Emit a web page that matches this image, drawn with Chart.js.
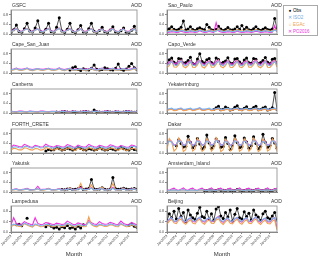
<!DOCTYPE html>
<html><head><meta charset="utf-8">
<script src="https://cdn.jsdelivr.net/npm/chart.js@4.4.1/dist/chart.umd.min.js"></script>
<style>
html,body{margin:0;padding:0;background:#fff;width:320px;height:261px;overflow:hidden;font-family:'Liberation Sans',Arial,sans-serif;}
.w{position:absolute;}
.t{position:absolute;font-size:5px;line-height:6px;color:#333;white-space:nowrap;}
.lg{position:absolute;left:283px;top:5px;width:35px;height:31px;border:1px solid #aaa;box-sizing:border-box;background:#fff;}
.li{position:absolute;left:3px;font-size:4.5px;line-height:6px;white-space:nowrap;}
.li b{display:inline-block;width:6px;font-weight:normal;text-align:center;}
</style></head><body>
<div class="lg">
 <div class="li" style="top:2px;color:#000"><b>●</b>Obs</div>
 <div class="li" style="top:9px;color:#6fa8e0"><b>✕</b>ISO2</div>
 <div class="li" style="top:16px;color:#f0a050"><b>○</b>EGAc</div>
 <div class="li" style="top:23px;color:#ee33dd"><b>✕</b>PO2016</div>
</div>
<script>
const yearLabels = ['Jan2003','Jan2004','Jan2005','Jan2006','Jan2007','Jan2008','Jan2009','Jan2010','Jan2011','Jan2012','Jan2013','Jan2014'];
const seriesNames = ['ISO2','EGAc','PO2016','Obs'];
const yTicks = [0,0.2,0.4,0.6,0.8,1.0];

// GSFC
const gsfcISO=[.08,.16,.21,.10,.08,.17,.22,.10,.08,.16,.21,.10,.09,.16,.22,.10,.08,.17,.23,.10,.08,.16,.21,.10,.08,.15,.20,.09,.08,.16,.21,.09,.08,.15,.19,.09,.08,.16,.21,.10,.08,.15,.20,.09,.08,.16,.21,.08];
const gsfcEGA=[.07,.15,.21,.09,.08,.17,.23,.10,.07,.16,.20,.09,.08,.15,.22,.10,.07,.17,.24,.09,.08,.16,.21,.10,.07,.14,.20,.09,.08,.16,.22,.08,.07,.15,.19,.09,.08,.17,.21,.10,.07,.15,.20,.09,.08,.16,.22,.07];
const gsfcPO=[.10,.18,.22,.12,.11,.19,.23,.12,.10,.18,.21,.12,.11,.18,.23,.13,.10,.19,.24,.12,.11,.18,.22,.12,.10,.17,.21,.11,.11,.18,.22,.11,.10,.17,.20,.11,.11,.19,.22,.12,.10,.17,.21,.11,.11,.18,.22,.10];
const gsfcObs=[.06,.18,.38,.10,.07,.22,.45,.12,.08,.25,.55,.10,.06,.20,.45,.09,.07,.28,.68,.12,.06,.20,.45,.10,.05,.18,.35,.08,.07,.22,.45,.11,.06,.15,.28,.09,.05,.17,.30,.08,.06,.14,.25,.07,.05,.16,.32,.06];
// Cape_San_Juan
const csjISO=[.13,.15,.19,.14,.13,.16,.20,.14,.12,.15,.18,.14,.13,.16,.19,.14,.13,.15,.20,.14,.12,.16,.19,.13,.13,.15,.18,.14,.13,.16,.20,.14,.12,.15,.19,.13,.13,.16,.19,.14,.13,.15,.18,.14,.13,.16,.20,.13];
const csjEGA=[.11,.13,.17,.12,.11,.14,.18,.12,.10,.13,.16,.12,.11,.14,.17,.12,.11,.13,.18,.12,.10,.14,.17,.11,.11,.13,.16,.12,.11,.14,.18,.12,.10,.13,.17,.11,.11,.14,.17,.12,.11,.13,.16,.12,.11,.14,.18,.11];
const csjPO=[.15,.17,.20,.16,.15,.18,.21,.16,.14,.17,.19,.16,.15,.18,.20,.16,.15,.17,.21,.16,.14,.18,.20,.15,.15,.17,.19,.16,.15,.18,.21,.16,.14,.17,.20,.15,.15,.18,.20,.16,.15,.17,.19,.16,.15,.18,.21,.15];
const csjObs=[null,null,null,null,null,null,null,null,null,null,null,null,null,null,null,null,null,null,null,null,null,null,.12,.22,.26,.15,.10,.18,.14,.12,.20,.33,.16,.12,.15,.22,.18,.14,.12,.20,.37,.15,.11,.17,.28,.40,.22,.14];
// Canberra
const canISO=[.06,.05,.04,.06,.06,.05,.04,.07,.06,.05,.04,.06,.06,.05,.04,.06,.06,.05,.04,.07,.06,.04,.04,.06,.06,.05,.04,.06,.06,.05,.04,.07,.06,.05,.04,.06,.06,.05,.04,.06,.06,.05,.04,.07,.06,.05,.04,.06];
const canEGA=[.05,.04,.03,.05,.05,.04,.03,.06,.05,.04,.03,.05,.05,.04,.03,.05,.05,.04,.03,.06,.05,.03,.03,.05,.05,.04,.03,.05,.05,.04,.03,.06,.05,.04,.03,.05,.05,.04,.03,.05,.05,.04,.03,.06,.05,.04,.03,.05];
const canPO=[.07,.06,.05,.08,.08,.06,.05,.08,.07,.06,.05,.08,.08,.06,.05,.07,.07,.06,.05,.08,.08,.06,.05,.08,.07,.06,.05,.08,.08,.06,.05,.07,.07,.06,.05,.08,.08,.06,.05,.08,.07,.06,.05,.08,.08,.06,.05,.07];
const canObs=[null,null,null,null,null,null,null,null,null,null,null,null,null,null,null,null,null,.04,.03,.05,.06,.04,.03,.05,.04,.03,.04,.05,.06,.04,.03,.12,.05,.04,.03,.04,.06,.04,.03,.05,.04,.03,.04,.06,.05,.04,.03,.05];
// FORTH_CRETE
const forISO=[.20,.25,.26,.22,.21,.27,.28,.22,.20,.26,.27,.21,.22,.28,.27,.23,.20,.25,.26,.21,.21,.27,.28,.22,.20,.26,.25,.21,.21,.27,.27,.22,.20,.25,.26,.21,.21,.26,.28,.22,.20,.25,.26,.21,.21,.27,.27,.22];
const forEGA=[.12,.20,.18,.13,.13,.22,.20,.14,.12,.19,.18,.12,.14,.23,.19,.15,.12,.18,.17,.12,.13,.21,.20,.14,.11,.20,.17,.12,.13,.22,.19,.13,.12,.19,.18,.12,.13,.21,.20,.14,.12,.18,.17,.11,.13,.20,.19,.12];
const forPO=[.24,.33,.30,.27,.25,.36,.31,.26,.23,.32,.29,.25,.26,.37,.30,.27,.24,.31,.29,.25,.25,.35,.31,.26,.23,.33,.28,.25,.25,.36,.30,.26,.24,.32,.29,.25,.25,.34,.31,.26,.24,.31,.28,.24,.25,.33,.30,.25];
const forObs=[null,null,null,null,null,null,null,null,null,null,null,null,null,.08,.15,.12,.14,.22,.18,.12,.15,.20,.17,.13,.16,.24,.19,.14,.13,.18,.16,.12,.15,.22,.17,.13,.14,.19,.16,.12,.17,.25,.18,.14,.13,.20,.15,.12];
// Yakutsk
const yakISO=[.09,.10,.12,.08,.09,.11,.13,.08,.09,.10,.14,.08,.10,.11,.13,.09,.09,.10,.12,.08,.09,.11,.14,.08,.09,.12,.15,.09,.10,.11,.16,.09,.09,.12,.14,.08,.09,.11,.15,.09,.09,.10,.13,.08,.09,.11,.13,.08];
const yakEGA=[.07,.09,.11,.07,.08,.10,.12,.07,.07,.09,.13,.07,.08,.10,.14,.08,.07,.09,.12,.07,.08,.10,.18,.08,.07,.12,.36,.09,.08,.11,.30,.08,.07,.12,.20,.08,.08,.10,.35,.09,.07,.09,.16,.07,.08,.10,.14,.07];
const yakPO=[.10,.11,.13,.09,.10,.12,.15,.10,.10,.11,.24,.10,.11,.12,.15,.10,.10,.11,.14,.09,.10,.12,.16,.10,.10,.13,.20,.10,.11,.12,.18,.10,.10,.13,.16,.09,.10,.12,.19,.10,.10,.11,.15,.09,.10,.12,.14,.09];
const yakObs=[null,null,null,null,null,null,null,null,null,null,null,null,null,null,null,null,null,null,null,.10,.09,.12,.15,.10,.11,.14,.20,.10,.12,.15,.52,.13,.10,.12,.18,.11,.09,.13,.60,.14,.11,.13,.16,.12,.10,.12,.15,.11];
// Lampedusa
const lamISO=[.24,.30,.28,.25,.26,.34,.30,.26,.23,.31,.28,.24,.25,.30,.29,.26,.24,.28,.27,.24,.26,.33,.30,.25,.23,.29,.27,.24,.25,.38,.31,.26,.24,.30,.28,.25,.26,.31,.29,.25,.24,.33,.28,.24,.25,.31,.27,.23];
const lamEGA=[.20,.27,.25,.21,.22,.32,.27,.22,.19,.28,.25,.20,.21,.27,.26,.22,.20,.25,.24,.20,.22,.31,.27,.21,.19,.26,.24,.20,.21,.58,.28,.22,.20,.27,.25,.21,.22,.28,.26,.21,.20,.30,.25,.20,.21,.28,.24,.18];
const lamPO=[.28,.55,.33,.30,.30,.40,.35,.31,.27,.55,.33,.29,.30,.36,.34,.31,.28,.34,.32,.29,.31,.42,.36,.30,.28,.35,.32,.29,.30,.45,.36,.31,.29,.40,.33,.30,.31,.37,.34,.30,.29,.42,.33,.29,.30,.37,.32,.27];
const lamObs=[null,null,.28,.30,.24,null,.53,null,null,null,null,null,null,.20,.28,.22,.15,.18,.12,.20,.16,.25,.14,.18,.12,.22,.15,.28,null,null,null,null,null,null,null,null,null,null,null,null,null,null,null,null,.25,.30,.22,.18];
// Sao_Paulo
const saoISO=[.10,.11,.14,.12,.10,.11,.15,.13,.10,.11,.14,.12,.10,.12,.16,.13,.10,.11,.14,.12,.10,.12,.17,.13,.10,.11,.14,.12,.10,.11,.15,.12,.10,.11,.14,.12,.10,.12,.15,.13,.10,.11,.14,.12,.10,.11,.16,.12];
const saoEGA=[.12,.13,.17,.15,.12,.13,.18,.16,.12,.13,.16,.15,.12,.14,.19,.16,.12,.13,.17,.15,.12,.14,.20,.16,.12,.13,.17,.15,.12,.13,.18,.15,.12,.13,.17,.15,.12,.14,.18,.16,.12,.13,.16,.15,.12,.13,.19,.15];
const saoPO=[.06,.07,.10,.08,.06,.07,.12,.08,.06,.07,.10,.08,.06,.08,.14,.09,.06,.07,.11,.08,.06,.47,.13,.08,.06,.07,.10,.08,.06,.07,.12,.08,.06,.07,.10,.08,.06,.08,.12,.09,.06,.07,.10,.08,.06,.07,.35,.08];
const saoObs=[.18,.22,.30,.20,.16,.20,.28,.54,.17,.21,.30,.19,.15,.22,.26,.20,.18,.40,.28,.18,.16,.20,.32,.21,.15,.19,.27,.18,.17,.21,.30,.20,.35,.19,.28,.18,.16,.22,.30,.20,.15,.20,.26,.19,.17,.21,.65,.22];
// Capo_Verde
const cvISO=[.30,.38,.48,.34,.32,.40,.50,.35,.30,.37,.47,.33,.31,.39,.49,.34,.30,.38,.46,.33,.32,.40,.50,.35,.30,.37,.47,.33,.31,.39,.48,.34,.30,.38,.46,.33,.32,.40,.49,.35,.30,.37,.47,.33,.31,.39,.48,.34];
const cvEGA=[.22,.32,.50,.25,.24,.35,.52,.27,.22,.31,.48,.24,.23,.34,.51,.26,.21,.32,.47,.24,.24,.36,.53,.27,.22,.31,.48,.24,.23,.33,.50,.26,.22,.32,.47,.24,.24,.35,.51,.27,.22,.31,.48,.24,.23,.34,.50,.25];
const cvPO=[.35,.45,.52,.40,.37,.47,.54,.41,.35,.44,.51,.39,.36,.46,.53,.40,.35,.45,.50,.39,.37,.48,.55,.41,.35,.44,.51,.39,.36,.46,.52,.40,.35,.45,.50,.39,.37,.47,.54,.41,.35,.44,.51,.39,.36,.46,.52,.40];
const cvObs=[.40,.55,.62,.45,.38,.60,.58,.42,.44,.52,.66,.40,.36,.58,.80,.48,.42,.55,.60,.44,.38,.62,.56,.40,.45,.50,.64,.42,.40,.58,.60,.46,.37,.54,.62,.43,.41,.60,.57,.40,.44,.52,.65,.45,.39,.57,.60,.42];
// Yekaterinburg
const yekISO=[.16,.18,.20,.15,.16,.19,.21,.15,.16,.18,.20,.15,.17,.19,.22,.16,.16,.18,.20,.15,.16,.19,.21,.15,.16,.18,.20,.15,.17,.19,.21,.16,.16,.18,.20,.15,.16,.19,.21,.15,.16,.18,.20,.15,.17,.19,.21,.16];
const yekEGA=[.11,.14,.16,.10,.11,.15,.17,.10,.11,.14,.16,.10,.12,.15,.18,.11,.11,.14,.16,.10,.11,.15,.17,.10,.11,.14,.16,.10,.12,.15,.17,.11,.11,.14,.16,.10,.11,.15,.17,.10,.11,.14,.16,.10,.12,.15,.17,.11];
const yekPO=[.13,.16,.18,.12,.13,.17,.19,.12,.13,.16,.18,.12,.14,.17,.20,.13,.13,.16,.18,.12,.13,.17,.19,.12,.13,.16,.18,.12,.14,.17,.19,.13,.13,.16,.18,.12,.13,.17,.19,.12,.13,.16,.18,.12,.14,.17,.19,.13];
const yekObs=[null,null,null,null,null,null,null,null,null,null,null,null,null,null,null,null,null,null,null,null,.15,.22,.28,.14,.16,.25,.20,.13,.15,.24,.30,.16,.14,.20,.26,.15,.16,.23,.28,.14,.15,.21,.25,.13,.16,.22,.85,.15];
// Dakar
const dakISO=[.35,.50,.45,.30,.36,.52,.47,.31,.34,.49,.44,.30,.36,.51,.46,.31,.35,.50,.45,.30,.37,.53,.47,.32,.34,.49,.44,.30,.36,.51,.46,.31,.35,.50,.45,.30,.36,.52,.47,.31,.34,.49,.44,.30,.35,.51,.46,.31];
const dakEGA=[.15,.60,.45,.08,.18,.63,.48,.06,.14,.58,.44,.08,.17,.62,.46,.07,.15,.59,.45,.08,.19,.64,.48,.06,.14,.57,.43,.08,.16,.61,.46,.07,.15,.60,.44,.08,.18,.62,.47,.06,.14,.58,.44,.08,.16,.60,.45,.07];
const dakPO=[.35,.55,.48,.32,.37,.57,.50,.33,.34,.54,.47,.31,.36,.56,.49,.33,.35,.55,.48,.32,.38,.58,.51,.34,.34,.53,.47,.31,.36,.56,.49,.33,.35,.55,.48,.32,.37,.57,.50,.33,.34,.54,.47,.31,.36,.55,.48,.32];
const dakObs=[null,null,null,null,.30,.55,.40,.25,.28,.70,.45,.22,.32,.60,.38,.18,.25,.75,.42,.20,.30,.58,.48,.24,.27,.65,.40,.15,.33,.72,.44,.22,.26,.62,.46,.20,.30,.68,.40,.18,.28,.78,.45,.24,.31,.60,.42,.20];
// Amsterdam_Island
const amsISO=[.07,.06,.08,.09,.07,.06,.08,.10,.07,.06,.08,.09,.07,.06,.09,.09,.07,.06,.08,.09,.07,.06,.08,.10,.07,.06,.08,.09,.07,.06,.09,.09,.07,.06,.08,.09,.07,.06,.08,.10,.07,.06,.08,.09,.07,.06,.09,.09];
const amsEGA=[.06,.05,.07,.08,.06,.05,.07,.09,.06,.05,.07,.08,.06,.05,.08,.08,.06,.05,.07,.08,.06,.05,.07,.09,.06,.05,.07,.08,.06,.05,.08,.08,.06,.05,.07,.08,.06,.05,.07,.09,.06,.05,.07,.08,.06,.05,.08,.08];
const amsPO=[.09,.07,.12,.16,.09,.07,.12,.17,.09,.07,.13,.16,.09,.07,.12,.16,.09,.07,.12,.17,.09,.07,.13,.16,.09,.07,.12,.16,.09,.07,.12,.17,.09,.07,.13,.16,.09,.07,.12,.16,.09,.07,.12,.17,.09,.07,.13,.16];
const amsObs=[null,null,null,null,null,null,null,null,null,null,null,null,null,null,null,null,.06,.05,.08,.07,.05,.06,.09,.06,.07,.05,.08,.06,.06,.05,.10,.07,.05,.06,.08,.06,.07,.05,.09,.08,.06,.05,.08,.07,.06,.05,.09,.06];
// Beijing
const beiISO=[.40,.50,.55,.42,.42,.52,.58,.44,.40,.49,.55,.43,.42,.51,.57,.44,.41,.50,.55,.42,.43,.53,.58,.45,.40,.49,.54,.42,.42,.51,.56,.44,.41,.50,.55,.42,.43,.52,.57,.45,.40,.49,.54,.42,.42,.50,.55,.38];
const beiEGA=[.30,.42,.48,.35,.32,.45,.50,.36,.30,.40,.47,.34,.31,.44,.49,.36,.30,.41,.46,.34,.33,.46,.51,.37,.29,.40,.46,.34,.31,.43,.49,.35,.30,.41,.47,.34,.32,.44,.50,.36,.29,.40,.45,.33,.31,.42,.47,.08];
const beiPO=[.38,.48,.55,.40,.40,.52,.58,.42,.38,.47,.54,.40,.39,.50,.56,.42,.38,.48,.53,.40,.41,.53,.60,.43,.37,.47,.53,.40,.39,.50,.56,.41,.38,.48,.54,.40,.40,.51,.57,.42,.37,.47,.53,.39,.39,.49,.55,.15];
const beiObs=[.45,.70,.55,.80,.50,.90,.60,.75,.40,.85,.65,.55,.48,.72,.95,.60,.55,.80,.50,.70,.45,.88,.98,.62,.52,.75,.58,.85,.42,.68,.90,.55,.50,.78,.60,.72,.46,.85,.65,.58,.44,.70,.80,.55,.50,.62,.75,.45];

const stations = [
 ['GSFC',gsfcISO,gsfcEGA,gsfcPO,gsfcObs,0,0],
 ['Cape_San_Juan',csjISO,csjEGA,csjPO,csjObs,0,1],
 ['Canberra',canISO,canEGA,canPO,canObs,0,2],
 ['FORTH_CRETE',forISO,forEGA,forPO,forObs,0,3],
 ['Yakutsk',yakISO,yakEGA,yakPO,yakObs,0,4],
 ['Lampedusa',lamISO,lamEGA,lamPO,lamObs,0,5],
 ['Sao_Paulo',saoISO,saoEGA,saoPO,saoObs,1,0],
 ['Capo_Verde',cvISO,cvEGA,cvPO,cvObs,1,1],
 ['Yekaterinburg',yekISO,yekEGA,yekPO,yekObs,1,2],
 ['Dakar',dakISO,dakEGA,dakPO,dakObs,1,3],
 ['Amsterdam_Island',amsISO,amsEGA,amsPO,amsObs,1,4],
 ['Beijing',beiISO,beiEGA,beiPO,beiObs,1,5]
];

const plotTops=[9,48,88,128,167,205];
const colors=['#7fb5e8','#f0a050','#ee33dd','#000000'];
const frame={id:'frame',afterDatasetsDraw(c){const a=c.chartArea,x=c.ctx;x.save();x.strokeStyle='#888';x.lineWidth=0.8;x.strokeRect(a.left,a.top,a.right-a.left,a.bottom-a.top);x.restore();}};
const pts=arr=>arr.map((v,i)=>({x:i,y:v}));

stations.forEach(st=>{
  const [name,iso,ega,po,obs,col,row]=st;
  const bottom=row===5;
  const top=plotTops[row];
  const ph=bottom?27:26;
  const left=col===0?0:156;
  const width=col===0?141:125;
  const plotLeft=left+11, plotRight=left+width-1;
  const h=3+ph+(bottom?29:3);
  const w=document.createElement('div');w.className='w';
  w.style.cssText=`left:${left}px;top:${top-3}px;width:${width}px;height:${h}px;`;
  const cv=document.createElement('canvas');w.appendChild(cv);document.body.appendChild(w);
  const t1=document.createElement('div');t1.className='t';t1.textContent=name;
  t1.style.left=(plotLeft+1)+'px';t1.style.top=(top-7)+'px';document.body.appendChild(t1);
  const t2=document.createElement('div');t2.className='t';t2.textContent='AOD';
  t2.style.left=(plotRight-9)+'px';t2.style.top=(top-7)+'px';document.body.appendChild(t2);
  const ds=[iso,ega,po].map((a,k)=>({label:seriesNames[k],data:pts(a),borderColor:colors[k],backgroundColor:colors[k],borderWidth:1.1,pointRadius:0,tension:0}));
  ds.push({label:'Obs',data:pts(obs),borderColor:'#000',backgroundColor:'#000',borderWidth:0.7,pointRadius:1.5,pointBorderWidth:0,spanGaps:false});
  new Chart(cv,{type:'line',data:{datasets:ds},plugins:[frame],options:{
    responsive:true,maintainAspectRatio:false,animation:false,
    layout:{padding:{left:0,right:1,top:3,bottom:bottom?0:3}},
    plugins:{legend:{display:false},tooltip:{enabled:false}},
    scales:{
      x:{type:'linear',min:0,max:47,
        afterFit:s=>{s.height=bottom?29:0;},
        grid:{display:true,drawOnChartArea:false,tickLength:2,color:'#888'},
        border:{color:'#888'},
        ticks:{display:bottom,stepSize:4,includeBounds:false,autoSkip:false,minRotation:45,maxRotation:45,padding:0,
          font:{size:3.5,family:'Liberation Sans'},color:'#444',
          callback:v=>yearLabels[v/4]||''},
        title:{display:bottom,text:'Month',font:{size:6,family:'Liberation Sans'},color:'#333',padding:{top:0,bottom:3}}
      },
      y:{min:0,max:1,
        afterFit:s=>{s.width=11;},
        grid:{display:true,drawOnChartArea:false,tickLength:2,color:'#888'},
        border:{color:'#888'},
        ticks:{stepSize:0.2,padding:1,font:{size:3.5,family:'Liberation Sans'},color:'#444',callback:v=>v.toFixed(1)}
      }
    }
  }});
});
</script>
</body></html>
